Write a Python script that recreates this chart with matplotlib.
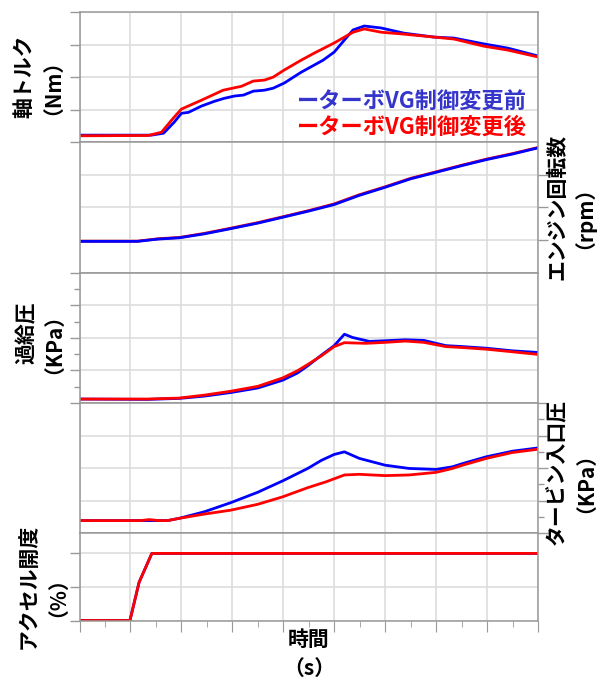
import matplotlib
matplotlib.use("Agg")
import matplotlib.pyplot as plt
from matplotlib.ticker import MultipleLocator, FixedLocator, NullFormatter

plt.rcParams["font.family"] = ["Noto Sans CJK JP", "DejaVu Sans"]

BLUE = "#0000ff"
RED = "#ff0000"

# 軸トルク (Nm)
t_torque_before = [0.0, 1.41, 1.65, 1.86, 2.0, 2.14, 2.39, 2.65, 2.84, 3.04, 3.22, 3.41, 3.63,
                   3.80, 4.02, 4.35, 4.78, 5.0, 5.2, 5.37, 5.59, 5.92, 6.37, 6.96, 7.35, 7.94,
                   8.41, 9.0]
torque_before = [22, 22, 28, 62, 89, 92, 111, 126, 135, 142, 145, 157, 160,
                 166, 182, 215, 252, 277, 314, 345, 357, 351, 335, 323, 320, 302,
                 289, 265]
t_torque_after = [0.0, 1.35, 1.61, 1.84, 2.0, 2.39, 2.82, 3.18, 3.41, 3.63, 3.80, 4.02, 4.35,
                  4.61, 5.0, 5.37, 5.59, 5.92, 6.37, 6.96, 7.35, 7.94, 8.41, 9.0]
torque_after = [20, 21, 31, 74, 102, 129, 160, 172, 188, 191, 200, 222, 252,
                274, 305, 338, 348, 338, 332, 323, 317, 295, 283, 262]

# エンジン回転数 (rpm)
t_rpm = [0.0, 1.14, 1.54, 1.96, 2.45, 2.97, 3.5, 3.99, 4.5, 5.0, 5.49, 6.0, 6.5, 7.0,
         7.52, 7.99, 8.5, 9.0]
rpm_before = [960, 960, 1030, 1070, 1190, 1350, 1520, 1700, 1890, 2090, 2370, 2620, 2880,
              3080, 3290, 3470, 3640, 3830]
rpm_after = [965, 965, 1040, 1080, 1205, 1365, 1535, 1715, 1905, 2110, 2390, 2635, 2895,
             3095, 3305, 3485, 3655, 3840]

# 過給圧 (KPa)
t_boost_before = [0.0, 1.34, 1.96, 2.45, 2.97, 3.5, 3.99, 4.28, 4.48, 4.75, 5.0, 5.2, 5.36,
                  5.69, 6.0, 6.4, 6.76, 7.19, 7.52, 7.99, 8.5, 9.0]
boost_before = [6, 5.5, 7, 10.5, 16, 23, 35, 46, 57, 73.5, 88, 105.5, 100.5,
                94.5, 95.5, 97, 96, 88, 86.5, 84, 80, 77.5]
t_boost_after = [0.0, 1.34, 1.96, 2.45, 2.97, 3.5, 3.99, 4.28, 4.48, 4.75, 5.0, 5.2, 5.62,
                 6.0, 6.4, 6.76, 7.19, 7.52, 7.99, 8.5, 9.0]
boost_after = [6, 6, 7.5, 12, 18, 25.5, 38.5, 49.5, 59, 72.5, 86.5, 92.5, 91.5,
               93, 95, 93, 86.5, 85, 82.5, 78.5, 74.5]

# タービン入口圧 (KPa)
t_turb_before = [0.0, 1.73, 1.96, 2.45, 2.97, 3.5, 3.99, 4.48, 4.75, 5.0, 5.2, 5.49, 6.0,
                 6.47, 7.0, 7.32, 7.52, 7.99, 8.5, 9.0]
turb_before = [19.5, 19.5, 23, 33, 47, 63, 80.5, 99.5, 112, 121, 125, 115, 104.5,
               99.5, 98, 102, 107, 117.5, 126, 131]
t_turb_after = [0.0, 1.2, 1.37, 1.55, 1.73, 1.96, 2.45, 2.97, 3.5, 3.99, 4.48, 4.84, 5.2,
                5.49, 6.0, 6.47, 7.0, 7.32, 7.52, 7.99, 8.5, 9.0]
turb_after = [19.5, 19.5, 21, 19.5, 19.5, 23, 29.5, 35.5, 44.5, 56, 70, 79, 89.5,
              90.5, 88.5, 89.5, 93.5, 99.5, 104.5, 115, 124, 129]

# アクセル開度 (%)
t_accel = [0.0, 0.99, 1.17, 1.42, 9.0]
accel = [0, 0, 57, 100, 100]

fig = plt.figure(figsize=(5.97, 6.79), dpi=100)
gs = fig.add_gridspec(5, 1, height_ratios=[130, 130, 130, 130, 87], hspace=0,
                      left=79.5 / 597, right=538 / 597, top=1 - 12 / 679,
                      bottom=1 - 620.5 / 679)
axes = [fig.add_subplot(gs[i]) for i in range(5)]

SPINE = "#999999"
GRID = "#dddddd"

for ax in axes:
    ax.set_xlim(0, 9)
    ax.xaxis.set_major_locator(MultipleLocator(1))
    ax.grid(True, color=GRID, linewidth=1.2)
    ax.set_axisbelow(True)
    for s in ax.spines.values():
        s.set_color(SPINE)
        s.set_linewidth(1.1)
    ax.tick_params(axis="x", length=0, labelbottom=False)
    ax.tick_params(axis="y", which="both", color=SPINE, direction="out",
                   labelleft=False, labelright=False)
    ax.tick_params(axis="y", which="major", length=7, width=1.0)
    ax.tick_params(axis="y", which="minor", length=4, width=1.0)

lw = 2.0
ax1, ax2, ax3, ax4, ax5 = axes

ax1.plot(t_torque_before, torque_before, color=BLUE, lw=lw)
ax1.plot(t_torque_after, torque_after, color=RED, lw=lw)
ax1.set_ylim(0, 400)
ax1.yaxis.set_major_locator(MultipleLocator(100))

ax2.plot(t_rpm, rpm_after, color=RED, lw=lw)
ax2.plot(t_rpm, rpm_before, color=BLUE, lw=lw)
ax2.set_ylim(0, 4000)
ax2.yaxis.set_major_locator(FixedLocator([1000, 2000, 3000]))
ax2.yaxis.tick_right()
ax2.tick_params(axis="y", labelright=False)

ax3.plot(t_boost_before, boost_before, color=BLUE, lw=lw)
ax3.plot(t_boost_after, boost_after, color=RED, lw=lw)
ax3.set_ylim(0, 200)
ax3.yaxis.set_major_locator(MultipleLocator(50))
ax3.yaxis.set_minor_locator(MultipleLocator(25))

ax4.plot(t_turb_before, turb_before, color=BLUE, lw=lw)
ax4.plot(t_turb_after, turb_after, color=RED, lw=lw)
ax4.set_ylim(0, 200)
ax4.yaxis.set_major_locator(MultipleLocator(50))
ax4.yaxis.set_minor_locator(MultipleLocator(25))
ax4.yaxis.tick_right()
ax4.tick_params(axis="y", which="both", labelright=False)

ax5.plot(t_accel, accel, color=BLUE, lw=lw)
ax5.plot(t_accel, accel, color=RED, lw=lw)
ax5.set_ylim(0, 130)
ax5.yaxis.set_major_locator(FixedLocator([0, 50, 100]))
ax5.xaxis.set_minor_locator(MultipleLocator(0.5))
ax5.tick_params(axis="x", which="major", length=8, color=SPINE, direction="out")
ax5.tick_params(axis="x", which="minor", length=4, color=SPINE, direction="out")
ax5.xaxis.set_major_formatter(NullFormatter())

# 凡例テキスト
fig.text(527 / 597, 1 - 102 / 679, "ーターボVG制御変更前", color="#3535cc",
         fontsize=16, fontweight="bold", ha="right", va="center")
fig.text(527 / 597, 1 - 127 / 679, "ーターボVG制御変更後", color=RED,
         fontsize=16, fontweight="bold", ha="right", va="center")


def side_label(x_name, x_unit, y, name, unit):
    # 縦書きの軸ラベル (項目名と単位を2列に並べる)
    kw = dict(fontsize=15, fontweight="bold", rotation=90, ha="center", va="center")
    fig.text(x_name / 597, 1 - y / 679, name, **kw)
    fig.text(x_unit / 597, 1 - y / 679, unit, **kw)


side_label(24, 42, 76, "軸トルク", "（Nm）")
side_label(557, 573, 207, "エンジン回転数", "（rpm）")
side_label(26, 43, 333, "過給圧", "（KPa）")
side_label(557, 575, 472, "タービン入口圧", "（KPa）")
side_label(28, 47, 586, "アクセル開度", "（%）")

fig.text(309 / 597, 1 - 639 / 679, "時間", fontsize=15, fontweight="bold",
         ha="center", va="center")
fig.text(309 / 597, 1 - 668 / 679, "（s）", fontsize=15, fontweight="bold",
         ha="center", va="center")

fig.savefig("out.png", dpi=100)
